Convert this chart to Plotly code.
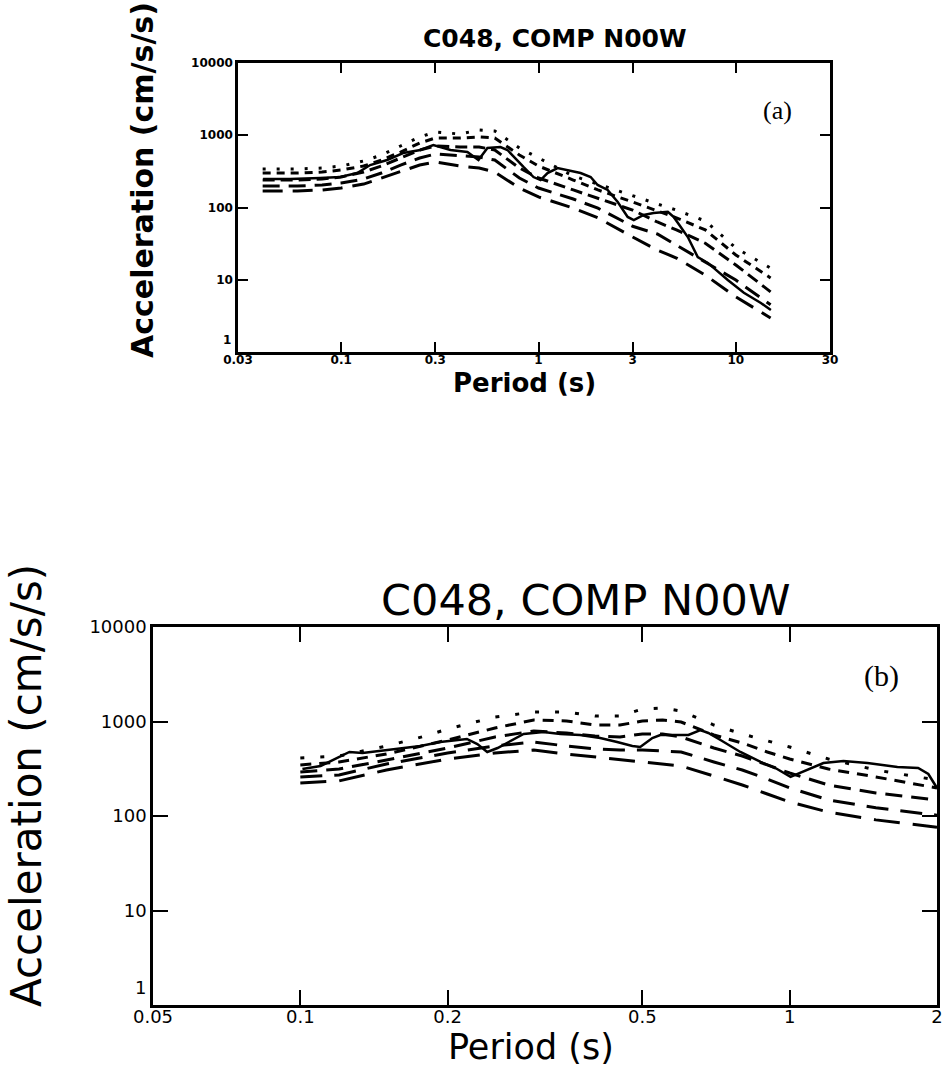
import plotly.graph_objects as go

# ---------------- Panel (a) data ----------------
a_period = [0.04, 0.06, 0.08, 0.1, 0.13, 0.16, 0.2, 0.25, 0.3, 0.4, 0.5, 0.6,
            0.8, 1.0, 1.5, 2, 3, 4, 5, 7, 10, 15]
a_dotted = [341, 341, 352, 375, 440, 533, 710, 946, 1109, 1040, 1183, 1146,
            666, 484, 273, 211, 144, 112, 92, 65, 27.5, 14.5]
a_short = [300, 300, 310, 330, 375, 454, 586, 782, 916, 916, 946, 916,
           533, 375, 240, 175, 119, 89, 72, 49, 22, 10.6]
a_medium = [240, 240, 248, 264, 310, 375, 484, 625, 710, 688, 688, 625,
            352, 256, 175, 135, 92, 63, 49, 32, 16, 6.8]
a_long1 = [198, 198, 205, 218, 248, 300, 387, 484, 550, 516, 500, 454,
           256, 186, 131, 98, 55, 43, 30, 17.6, 9.9, 4.5]
a_long2 = [169, 169, 175, 186, 211, 256, 320, 387, 426, 375, 352, 310,
           186, 140, 98, 72, 39, 25.8, 20, 11.6, 5.8, 2.96]

a_obs_period = [0.0402, 0.0551, 0.0782, 0.0988, 0.1206, 0.1403, 0.171, 0.206, 0.252, 0.293,
                0.358, 0.436, 0.496, 0.551, 0.641, 0.696, 0.839, 0.943, 1.024, 1.111,
                1.249, 1.403, 1.634, 1.837, 1.993, 2.24, 2.52, 2.83, 3.04, 3.41,
                3.83, 4.52, 4.84, 5.71, 6.41, 7.21, 9.10, 10.98, 13.39, 15.05]
a_obs = [248, 248, 256, 264, 300, 387, 454, 568, 625, 733,
         625, 586, 454, 666, 688, 625, 364, 264, 240, 300,
         352, 330, 300, 264, 205, 175, 119, 74, 67, 79,
         84, 87, 74, 39, 20.6, 17.1, 9.9, 6.6, 4.77, 3.81]

# ---------------- Panel (b) data ----------------
b_period = [0.1, 0.12, 0.15, 0.18, 0.2, 0.25, 0.3, 0.35, 0.4, 0.45, 0.5, 0.55,
            0.6, 0.7, 0.8, 0.9, 1.0, 1.2, 1.5, 2.0]
b_dotted = [411, 431, 550, 702, 833, 1116, 1261, 1261, 1144, 1144, 1356, 1390,
            1292, 918, 738, 622, 537, 401, 307, 240]
b_short = [347, 373, 453, 564, 637, 854, 1037, 1012, 918, 918, 1012, 1037,
           988, 720, 592, 476, 401, 314, 259, 198]
b_medium = [292, 314, 391, 476, 524, 686, 793, 756, 702, 686, 738, 738,
            686, 524, 431, 347, 285, 213, 175, 148]
b_long1 = [259, 272, 355, 421, 464, 550, 607, 550, 512, 499, 499, 487,
           476, 373, 307, 246, 198, 148, 122, 102]
b_long2 = [224, 235, 307, 364, 401, 464, 499, 453, 421, 391, 373, 355,
           338, 265, 213, 171, 141, 110, 91, 76]

b_obs_period = [0.101, 0.110, 0.119, 0.126, 0.134, 0.146, 0.160, 0.176, 0.193, 0.207,
                0.219, 0.230, 0.241, 0.253, 0.265, 0.286, 0.314, 0.340, 0.373, 0.410,
                0.444, 0.477, 0.495, 0.524, 0.544, 0.576, 0.621, 0.657, 0.682, 0.722,
                0.793, 0.872, 0.935, 1.004, 1.088, 1.172, 1.288, 1.442, 1.66, 1.83,
                1.92, 2.0]
b_obs = [314, 338, 411, 476, 464, 487, 512, 550, 607, 637,
         653, 578, 476, 524, 592, 738, 774, 738, 720, 669,
         607, 550, 537, 669, 720, 720, 720, 813, 756, 637,
         476, 373, 322, 259, 307, 364, 382, 364, 330, 322,
         278, 198]

a_xticks = [0.03, 0.1, 0.3, 1, 3, 10, 30]
a_xtick_text = ["0.03", "0.1", "0.3", "1", "3", "10", "30"]
b_xticks = [0.05, 0.1, 0.2, 0.5, 1, 2]
b_xtick_text = ["0.05", "0.1", "0.2", "0.5", "1", "2"]
yticks = [1, 10, 100, 1000, 10000]
ytick_text = ["", "10", "100", "1000", "10000"]   # the "1" label is set raised, as in the original
ylabel_low = "1"

W, H = 948, 1066


def px(x):
    return x / W


def py(y):
    return 1 - y / H


fig = go.Figure()

a_styles = [(a_dotted, "3px,11px"), (a_short, "8px,6px"), (a_medium, "12px,6px"),
            (a_long1, "17px,9px"), (a_long2, "20px,10px")]
for vals, dash in a_styles:
    fig.add_trace(go.Scatter(x=a_period, y=vals, mode="lines", xaxis="x", yaxis="y",
                             line=dict(color="black", width=3, dash=dash),
                             showlegend=False, hoverinfo="skip"))
fig.add_trace(go.Scatter(x=a_obs_period, y=a_obs, mode="lines", xaxis="x", yaxis="y",
                         line=dict(color="black", width=2.5), showlegend=False,
                         hoverinfo="skip"))

b_styles = [(b_dotted, "4px,16px"), (b_short, "11px,8px"), (b_medium, "17px,9px"),
            (b_long1, "22px,12px"), (b_long2, "26px,13px")]
for vals, dash in b_styles:
    fig.add_trace(go.Scatter(x=b_period, y=vals, mode="lines", xaxis="x2", yaxis="y2",
                             line=dict(color="black", width=3, dash=dash),
                             showlegend=False, hoverinfo="skip"))
fig.add_trace(go.Scatter(x=b_obs_period, y=b_obs, mode="lines", xaxis="x2", yaxis="y2",
                         line=dict(color="black", width=2.5), showlegend=False,
                         hoverinfo="skip"))

axis_common = dict(showline=True, linecolor="black", linewidth=2.5, mirror="ticks",
                   ticks="inside", tickcolor="black", showgrid=False, zeroline=False,
                   type="log", automargin=False)

fig.update_layout(
    width=W, height=H,
    margin=dict(l=0, r=0, t=0, b=0),
    paper_bgcolor="white", plot_bgcolor="white",
    xaxis=dict(domain=[px(238), px(830)], anchor="y",
               range=[-1.5229, 1.4771], tickvals=a_xticks, ticktext=a_xtick_text,
               ticklen=10, tickwidth=2, ticklabelstandoff=-5,
               tickfont=dict(family="DejaVu Sans", size=12, color="black", weight="bold"),
               **axis_common),
    yaxis=dict(domain=[py(352), py(63)], anchor="x",
               range=[0, 4], tickvals=yticks, ticktext=ytick_text,
               ticklen=10, tickwidth=2,
               tickfont=dict(family="DejaVu Sans", size=12, color="black", weight="bold"),
               **axis_common),
    xaxis2=dict(domain=[px(153), px(937)], anchor="y2",
                range=[-1.30103, 0.30103], tickvals=b_xticks, ticktext=b_xtick_text,
                ticklen=15, tickwidth=2, ticklabelstandoff=-6,
                tickfont=dict(family="DejaVu Sans", size=18, color="black"),
                **axis_common),
    yaxis2=dict(domain=[py(1005), py(627)], anchor="x2",
                range=[0, 4], tickvals=yticks, ticktext=ytick_text,
                ticklen=15, tickwidth=2,
                tickfont=dict(family="DejaVu Sans", size=18, color="black"),
                **axis_common),
)

ann = [
    dict(text="C048, COMP N00W", x=px(555), y=py(38),
         font=dict(family="DejaVu Sans", size=25, color="black", weight="bold")),
    dict(text="Period (s)", x=px(524), y=py(383),
         font=dict(family="DejaVu Sans", size=26, color="black", weight="bold")),
    dict(text="Acceleration (cm/s/s)", x=px(142), y=py(180), textangle=-90,
         font=dict(family="DejaVu Sans", size=30, color="black", weight="bold")),
    dict(text="(a)", x=px(777), y=py(110),
         font=dict(family="Liberation Serif", size=26, color="black")),
    dict(text=ylabel_low, x=px(233), y=py(340), xanchor="right",
         font=dict(family="DejaVu Sans", size=12, color="black", weight="bold")),
    dict(text="C048, COMP N00W", x=px(585), y=py(600),
         font=dict(family="DejaVu Sans", size=43, color="black")),
    dict(text="Period (s)", x=px(531), y=py(1047),
         font=dict(family="DejaVu Sans", size=35, color="black")),
    dict(text="Acceleration (cm/s/s)", x=px(26), y=py(786), textangle=-90,
         font=dict(family="DejaVu Sans", size=42, color="black")),
    dict(text="(b)", x=px(881), y=py(676),
         font=dict(family="Liberation Serif", size=30, color="black")),
    dict(text=ylabel_low, x=px(148), y=py(987), xanchor="right",
         font=dict(family="DejaVu Sans", size=18, color="black")),
]
for a in ann:
    a.setdefault("xanchor", "center")
    a.update(xref="paper", yref="paper", showarrow=False, yanchor="middle")
fig.update_layout(annotations=ann)

fig.write_html("out.html")
